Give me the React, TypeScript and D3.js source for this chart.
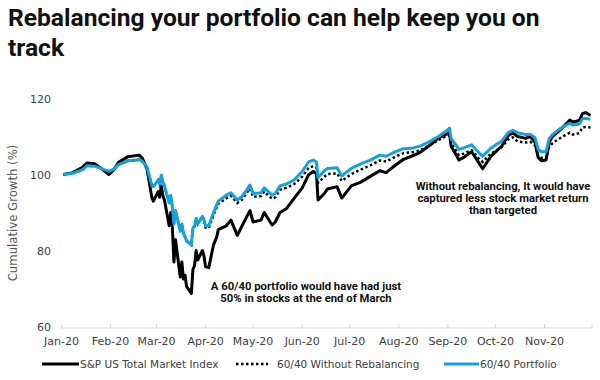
import React from "react";
import * as d3 from "d3";

const dates = [
  "2020-01-02","2020-01-08","2020-01-14","2020-01-17","2020-01-22","2020-01-27","2020-01-31",
  "2020-02-03","2020-02-06","2020-02-12","2020-02-19","2020-02-21","2020-02-24","2020-02-25","2020-02-27","2020-02-28",
  "2020-03-02","2020-03-03","2020-03-04","2020-03-05","2020-03-06","2020-03-09","2020-03-10","2020-03-11","2020-03-12","2020-03-13",
  "2020-03-16","2020-03-17","2020-03-18","2020-03-19","2020-03-20","2020-03-23","2020-03-24","2020-03-25","2020-03-26","2020-03-27",
  "2020-03-30","2020-03-31",
  "2020-04-01","2020-04-03","2020-04-06","2020-04-08","2020-04-09","2020-04-14","2020-04-17","2020-04-21","2020-04-24","2020-04-29",
  "2020-05-01","2020-05-06","2020-05-08","2020-05-13","2020-05-15","2020-05-18","2020-05-22","2020-05-27",
  "2020-06-01","2020-06-05","2020-06-08","2020-06-10","2020-06-11","2020-06-15","2020-06-17","2020-06-23","2020-06-26",
  "2020-07-02","2020-07-08","2020-07-14","2020-07-20","2020-07-24","2020-07-30",
  "2020-08-04","2020-08-10","2020-08-14","2020-08-20","2020-08-26",
  "2020-09-01","2020-09-02","2020-09-03","2020-09-08","2020-09-11","2020-09-16","2020-09-21","2020-09-23","2020-09-28",
  "2020-10-05","2020-10-09","2020-10-12","2020-10-15","2020-10-20","2020-10-23","2020-10-26","2020-10-28","2020-10-30",
  "2020-11-02","2020-11-04","2020-11-06","2020-11-09","2020-11-13","2020-11-17","2020-11-19","2020-11-23","2020-11-25","2020-11-27","2020-11-30"
];

const spTotalMarket = [
  100, 100.5, 101.8, 103, 102.8, 101.3, 100.0,
  101.2, 103.2, 104.7, 105.1, 104.3, 101.5, 99, 94, 93,
  95.5, 94, 97, 94.5, 93.3, 86.5, 90, 86, 77, 82.8,
  73, 77, 72.5, 73.5, 70.5, 68.7, 75, 76, 80, 77.5,
  80, 78.5,
  75.7, 75.5, 81.5, 83.5, 85.5, 86.5, 88, 84, 86.5, 90.5,
  87.5, 88, 90, 86.7, 87.5, 90, 91, 93.8,
  96.5, 99.9, 100.8, 100.2, 93.3, 95, 96.2, 96.8, 93.8,
  97, 98, 99.5, 101, 100.5, 102.5,
  104, 105, 105.7, 107.5, 109.6,
  110.8, 111, 107.5, 103.8, 104.5, 106, 102.8, 101.5, 104.7,
  107.5, 110.2, 111, 110, 109.5, 110, 108.5, 104.5, 103.6,
  103.8, 108.5, 110, 111, 112.6, 114.3, 113.8, 114.2, 116, 116.3, 115.5
];

const withoutRebalancing = [
  100, 100.3, 101.2, 102.3, 102.2, 101.4, 100.8,
  101.4, 102.6, 103.6, 103.9, 103.5, 102, 100.3, 97.2, 96.8,
  98.5, 97.5, 99.8, 98, 97, 92.5, 94.5, 91.5, 87, 90.5,
  85, 87, 84.5, 83.6, 82.5, 81.5, 86, 86.3, 88.5, 87,
  89, 88,
  86.0, 85.9, 89.4, 91.3, 92.3, 93.7, 94.4, 92.5, 93.4, 96.3,
  94.1, 94.3, 95.5, 93.6, 94, 96, 96.5, 97.5,
  99.4, 101.7, 102.2, 101.8, 97.8, 99.4, 100.1, 100.3, 98.3,
  100.1, 101.3, 102.4, 103.7, 103.4, 104.7,
  105.6, 105.9, 106.3, 107.6, 109.1,
  110.3, 110.8, 108.2, 105.1, 105.5, 106.4, 104, 103.3, 105.4,
  107.2, 109.2, 109.8, 108.7, 108.4, 108.6, 107.7, 104.9, 104.4,
  104.4, 107.4, 108.2, 109.1, 110.1, 111, 110.5, 110.9, 112.4, 112.5, 112.4
];

const portfolio6040 = [
  100, 100.3, 101.2, 102.3, 102.2, 101.4, 100.8,
  101.4, 102.6, 103.6, 103.9, 103.5, 102, 100.3, 97.2, 96.8,
  98.5, 97.5, 99.8, 98, 97, 92.5, 94.5, 91.5, 87, 90.5,
  85, 87, 84.5, 83.6, 82.5, 81.5, 86, 86.3, 88.5, 87,
  89, 88,
  86.5, 86.5, 90, 92, 93, 94.5, 95.2, 93.3, 94.2, 97.2,
  95, 95.2, 96.5, 94.6, 95, 97, 97.5, 98.6,
  100.8, 103.3, 103.8, 103.3, 99.2, 101, 101.6, 101.8, 99.6,
  101.6, 102.8, 103.8, 105.1, 104.8, 106,
  106.8, 107, 107.4, 108.6, 110,
  111.8, 112.2, 109.5, 106.6, 107, 107.8, 105.5, 104.8, 106.9,
  108.8, 111, 111.6, 111, 110.5, 110.6, 109.7, 106.6, 106,
  106, 109.5, 110.5, 111.5, 112.6, 113.5, 113, 113.3, 114.7, 114.8, 114.5
];

const monthTickDates = [
  "2020-01-01","2020-02-01","2020-03-01","2020-04-01","2020-05-01","2020-06-01",
  "2020-07-01","2020-08-01","2020-09-01","2020-10-01","2020-11-01","2020-12-01"
];
const monthLabels = ["Jan-20","Feb-20","Mar-20","Apr-20","May-20","Jun-20","Jul-20","Aug-20","Sep-20","Oct-20","Nov-20"];
const yTicks = [60, 80, 100, 120];

const titleLines = ["Rebalancing your portfolio can help keep you on", "track"];
const noteRight = ["Without rebalancing, It would have", "captured less stock market return", "than targeted"];
const noteLeft = ["A 60/40 portfolio would have had just", "50% in stocks at the end of March"];
const legendItems = ["S&P US Total Market Index", "60/40 Without Rebalancing", "60/40 Portfolio"];

const BLUE = "#12a3df";
const parse = d3.timeParse("%Y-%m-%d");

export default function App() {
  const x = d3.scaleTime()
    .domain([parse("2020-01-01")!, parse("2020-12-01")!])
    .range([61.5, 592]);
  const y = d3.scaleLinear().domain([60, 120]).range([326.5, 98.5]);

  const pts = dates.map((d) => parse(d)!);
  const mk = (vals: number[]) =>
    d3.line<number>()
      .x((_, i) => x(pts[i]))
      .y((v) => y(v))
      .curve(d3.curveLinear)(vals) || "";

  const boldFont = "Roboto, 'Noto Sans', sans-serif";
  const axisFont = "'DejaVu Sans', Verdana, sans-serif";
  const tickDates = monthTickDates.map((d) => parse(d)!);

  return (
    <svg
      width={600}
      height={380}
      style={{ position: "absolute", left: 0, top: 0, background: "#fff" }}
    >
      <rect x={0} y={0} width={600} height={380} fill="#fff" />
      {titleLines.map((t, i) => (
        <text key={t} x={8} y={26 + i * 30} fontFamily={boldFont} fontWeight={700} fontSize={24.6} fill="#111">
          {t}
        </text>
      ))}

      {/* y axis title */}
      <text
        transform={`translate(17,213) rotate(-90)`}
        textAnchor="middle"
        fontFamily={axisFont}
        fontSize={11.7}
        fill="#595959"
      >
        Cumulative Growth (%)
      </text>

      {yTicks.map((t) => (
        <text key={t} x={51} y={y(t) + 4} textAnchor="end" fontFamily={axisFont} fontSize={11} fill="#404040">
          {t}
        </text>
      ))}

      {/* x axis */}
      <line x1={x(tickDates[0])} x2={x(tickDates[tickDates.length - 1])} y1={328} y2={328} stroke="#d9d9d9" strokeWidth={1} />
      {tickDates.map((d, i) => (
        <line key={i} x1={x(d)} x2={x(d)} y1={324} y2={328} stroke="#d9d9d9" strokeWidth={1} />
      ))}
      {monthLabels.map((l, i) => (
        <text key={l} x={x(tickDates[i])} y={345} textAnchor="middle" fontFamily={axisFont} fontSize={11} fill="#404040">
          {l}
        </text>
      ))}

      {/* series */}
      <path d={mk(spTotalMarket)} fill="none" stroke="#000" strokeWidth={3} strokeLinejoin="round" />
      <path d={mk(withoutRebalancing)} fill="none" stroke="#000" strokeWidth={2.5} strokeDasharray="2.5,2.5" />
      <path d={mk(portfolio6040)} fill="none" stroke={BLUE} strokeWidth={3} strokeLinejoin="round" />

      {/* annotations */}
      {noteRight.map((t, i) => (
        <text key={t} x={503} y={190 + i * 12} textAnchor="middle" fontFamily={boldFont} fontWeight={700} fontSize={11.3} fill="#111">
          {t}
        </text>
      ))}
      {noteLeft.map((t, i) => (
        <text key={t} x={306} y={290 + i * 12} textAnchor="middle" fontFamily={boldFont} fontWeight={700} fontSize={11.3} fill="#111">
          {t}
        </text>
      ))}

      {/* legend */}
      <line x1={42} x2={79} y1={364} y2={364} stroke="#000" strokeWidth={3} />
      <text x={80} y={368} fontFamily={axisFont} fontSize={10.5} fill="#404040">{legendItems[0]}</text>
      <line x1={236} x2={268} y1={364} y2={364} stroke="#000" strokeWidth={2.5} strokeDasharray="2.5,2.5" />
      <text x={277} y={368} fontFamily={axisFont} fontSize={10.5} fill="#404040">{legendItems[1]}</text>
      <line x1={444} x2={479} y1={364} y2={364} stroke={BLUE} strokeWidth={3} />
      <text x={480} y={368} fontFamily={axisFont} fontSize={10.5} fill="#404040">{legendItems[2]}</text>
    </svg>
  );
}
